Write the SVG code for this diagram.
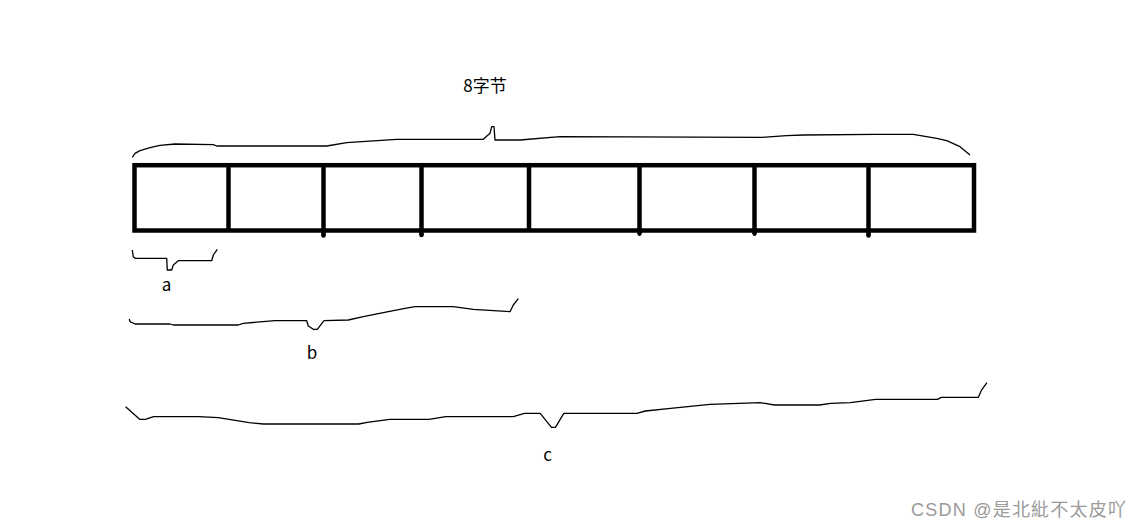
<svg xmlns="http://www.w3.org/2000/svg" width="1137" height="529" viewBox="0 0 1137 529">
<style>
.cell{fill:none;stroke:#000;stroke-width:4.5}
.div{stroke:#000;stroke-width:4.5;stroke-linecap:butt}
.brace{fill:none;stroke:#000;stroke-width:1.3;stroke-linejoin:round}
.lbl{font-family:"Microsoft YaHei","Noto Sans CJK SC","Noto Sans",sans-serif;font-size:17px;fill:#000}
.wm{font-family:"Liberation Sans","Noto Sans CJK SC",sans-serif;font-size:18px;fill:#9a9a9a}
</style>
<rect width="1137" height="529" fill="#fff"/>
<g id="bytes">
<rect class="cell" x="134.5" y="165.2" width="839.5" height="65.3"/>
<line class="div" x1="228.5" y1="165" x2="228.5" y2="231"/>
<line class="div" x1="323.5" y1="165" x2="323.5" y2="235"/>
<line class="div" x1="421.5" y1="165" x2="421.5" y2="235"/>
<line class="div" x1="529" y1="165" x2="529" y2="231"/>
<line class="div" x1="639.5" y1="165" x2="639.5" y2="234"/>
<line class="div" x1="754.5" y1="165" x2="754.5" y2="234"/>
<line class="div" x1="868.5" y1="165" x2="868.5" y2="235"/>
<circle cx="323.5" cy="235.5" r="2.3"/>
<circle cx="421.5" cy="235" r="2.3"/>
<circle cx="639.5" cy="234" r="2"/>
<circle cx="754.5" cy="234" r="2"/>
<circle cx="868.5" cy="235.5" r="2.3"/>
</g>
<g id="connectors">
<polyline id="brace-top" class="brace" points="132.3,157.3 135,153.3 140,150.7 150,147.7 160,145.3 175,144 213.3,144.7 216.7,146 326.7,146 346.7,142.7 396.7,139.3 483.3,139.3 490,133.3 491.7,126.7 494,126.7 495,140 520,140 560,136.7 761.7,137.3 786.7,135.7 803.3,135 875,134.3 913.3,134.3 936.7,138.3 946.7,140.7 960,146.7 970,155"/>
<polyline id="brace-a" class="brace" points="132.3,250 133.3,256.7 135,258.3 166.7,258.3 167.3,270 171.7,270 173.3,265 178.3,260.7 211.7,260.7 213.3,255 217.3,249.3"/>
<polyline id="brace-b" class="brace" points="129.3,319 130,321.7 135,324 170,324 173.3,325 238.3,325 243.3,323.3 275,320.7 306.7,320.7 308.3,326 313.3,329.3 317.3,329.3 324,320.7 348.3,320 363.3,316.7 383.3,312.7 405,308.3 415,306.7 453.3,306.7 473.3,309.3 510,311.7 513.3,305 518.3,298.7"/>
<polyline id="brace-c" class="brace" points="125.6,406.7 139.7,419.3 145.3,419.3 153.7,416.7 198.7,416.7 218.3,417.7 249.2,422.7 263.3,424 358.8,424 367.2,422.3 389.7,419.3 429,419.3 445.8,416.7 513.3,416.7 524.5,413.3 540.2,413.3 551.5,427.3 555.4,427.3 563.8,413.3 636.9,413.3 645.3,411 670.6,408.3 709.9,404.3 760.4,402.7 774.5,405 819.4,405 830.7,403.3 850.3,402.7 875.6,399.3 937.4,399.3 941.3,397.3 978.4,397.3 981.2,390.7 986.9,382.7"/>
</g>
<g id="label-8bytes"><text class="lbl" x="485" y="92" text-anchor="middle">8字节</text></g>
<g id="label-a"><text class="lbl" x="166.5" y="291" text-anchor="middle">a</text></g>
<g id="label-b"><text class="lbl" x="312" y="359" text-anchor="middle">b</text></g>
<g id="label-c"><text class="lbl" x="547.5" y="461" text-anchor="middle">c</text></g>
<g id="watermark"><text class="wm" x="911" y="516" textLength="215" lengthAdjust="spacing">CSDN @是北紕不太皮吖</text></g>
</svg>
